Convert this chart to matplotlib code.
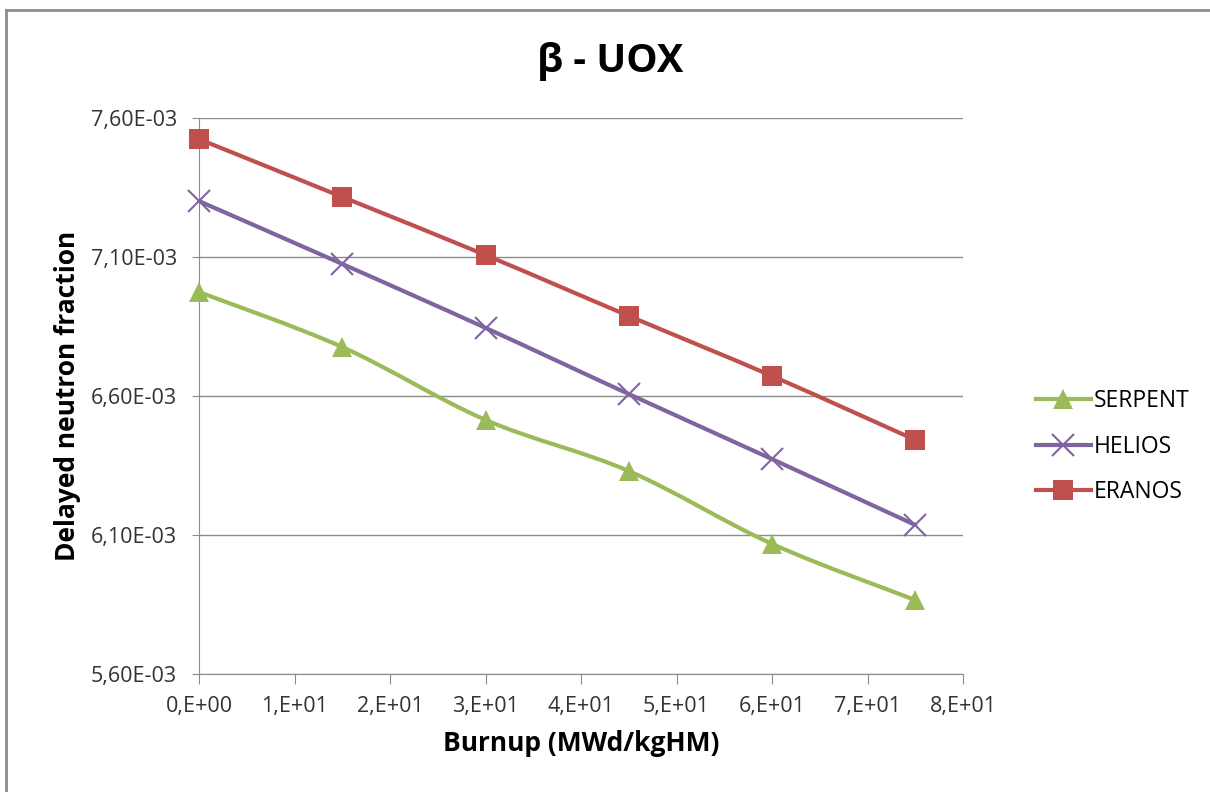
import numpy as np
import matplotlib.pyplot as plt
from matplotlib.path import Path
from matplotlib.patches import PathPatch
from matplotlib.lines import Line2D
from matplotlib.ticker import FuncFormatter, FixedLocator, MultipleLocator

plt.rcParams['font.family'] = ['Open Sans', 'DejaVu Sans']

burnup = [0, 15, 30, 45, 60, 75]
serpent = [6.974e-3, 6.776e-3, 6.514e-3, 6.330e-3, 6.068e-3, 5.866e-3]
helios = [7.301e-3, 7.075e-3, 6.845e-3, 6.607e-3, 6.373e-3, 6.136e-3]
eranos = [7.524e-3, 7.316e-3, 7.107e-3, 6.888e-3, 6.672e-3, 6.442e-3]
y_ticks = [5.60e-3, 6.10e-3, 6.60e-3, 7.10e-3, 7.60e-3]

series = [
    ("SERPENT", serpent, "#9BBB59", "^", 15, 1.0),
    ("HELIOS", helios, "#8064A2", "x", 16, 1.5),
    ("ERANOS", eranos, "#C0504D", "s", 14.5, 1.0),
]


def smooth_path(x, y):
    # spreadsheet-style smoothed line: cubic bezier through every point
    x = np.asarray(x, float)
    y = np.asarray(y, float)
    n = len(x)
    verts = [(x[0], y[0])]
    codes = [Path.MOVETO]
    for i in range(n - 1):
        p0 = (x[max(i - 1, 0)], y[max(i - 1, 0)])
        p1 = (x[i], y[i])
        p2 = (x[i + 1], y[i + 1])
        p3 = (x[min(i + 2, n - 1)], y[min(i + 2, n - 1)])
        c1 = (p1[0] + (p2[0] - p0[0]) / 6, p1[1] + (p2[1] - p0[1]) / 6)
        c2 = (p2[0] - (p3[0] - p1[0]) / 6, p2[1] - (p3[1] - p1[1]) / 6)
        verts += [c1, c2, p2]
        codes += [Path.CURVE4] * 3
    return Path(verts, codes)


fig = plt.figure(figsize=(12.1, 7.92), dpi=100)
ax = fig.add_axes([0.1645, 0.149, 0.6314, 0.702])

handles = []
for name, vals, color, marker, ms, mew in series:
    patch = PathPatch(smooth_path(burnup, vals), facecolor="none",
                      edgecolor=color, lw=3, capstyle="round", zorder=3)
    ax.add_patch(patch)
    ax.plot(burnup, vals, linestyle="none", marker=marker, markersize=ms,
            color=color, markeredgewidth=mew if marker == "x" else 0,
            zorder=4, clip_on=False)
    handles.append(Line2D([], [], color=color, lw=3, marker=marker,
                          markersize=ms, markeredgewidth=mew if marker == "x" else 0,
                          label=name))

ax.set_xlim(0, 80)
ax.set_ylim(5.6e-3, 7.6e-3)
ax.xaxis.set_major_locator(MultipleLocator(10))
ax.yaxis.set_major_locator(FixedLocator(y_ticks))


def fmt_x(v, pos):
    if v == 0:
        return "0,E+00"
    return f"{int(round(v / 10))},E+01"


def fmt_y(v, pos):
    return f"{v * 1e3:.2f}E-03".replace(".", ",")


ax.xaxis.set_major_formatter(FuncFormatter(fmt_x))
ax.yaxis.set_major_formatter(FuncFormatter(fmt_y))

ax.grid(axis="y", color="#8c8c8c", lw=1)
ax.set_axisbelow(True)
for side in ["top", "right"]:
    ax.spines[side].set_visible(False)
ax.spines["left"].set_color("#8c8c8c")
ax.spines["bottom"].set_color("#8c8c8c")
ax.tick_params(axis="x", direction="out", length=7, color="#8c8c8c",
               labelsize=15.5, pad=9, labelcolor="#333333")
ax.tick_params(axis="y", direction="out", length=5, color="#8c8c8c",
               labelsize=15.5, pad=11, labelcolor="#333333")

ax.set_xlabel("Burnup (MWd/kgHM)", fontsize=19, fontweight="bold", labelpad=9)
ax.set_ylabel("Delayed neutron fraction", fontsize=19, fontweight="bold", labelpad=7)
fig.text(0.504, 0.922, "β - UOX", ha="center", va="center",
         fontsize=28.5, fontweight="bold")

fig.legend(handles=handles, loc="center left", bbox_to_anchor=(0.856, 0.436),
           frameon=False, fontsize=16.5, handlelength=2.4, labelspacing=0.95,
           handletextpad=0.15, borderpad=0, borderaxespad=0)

# outer chart frame
fig.add_artist(Line2D([0.005, 0.005], [0, 0.9875], color="#8c8c8c", lw=2,
                      transform=fig.transFigure))
fig.add_artist(Line2D([0.005, 1], [0.9875, 0.9875], color="#8c8c8c", lw=2,
                      transform=fig.transFigure))

fig.savefig("out.png", dpi=100)
